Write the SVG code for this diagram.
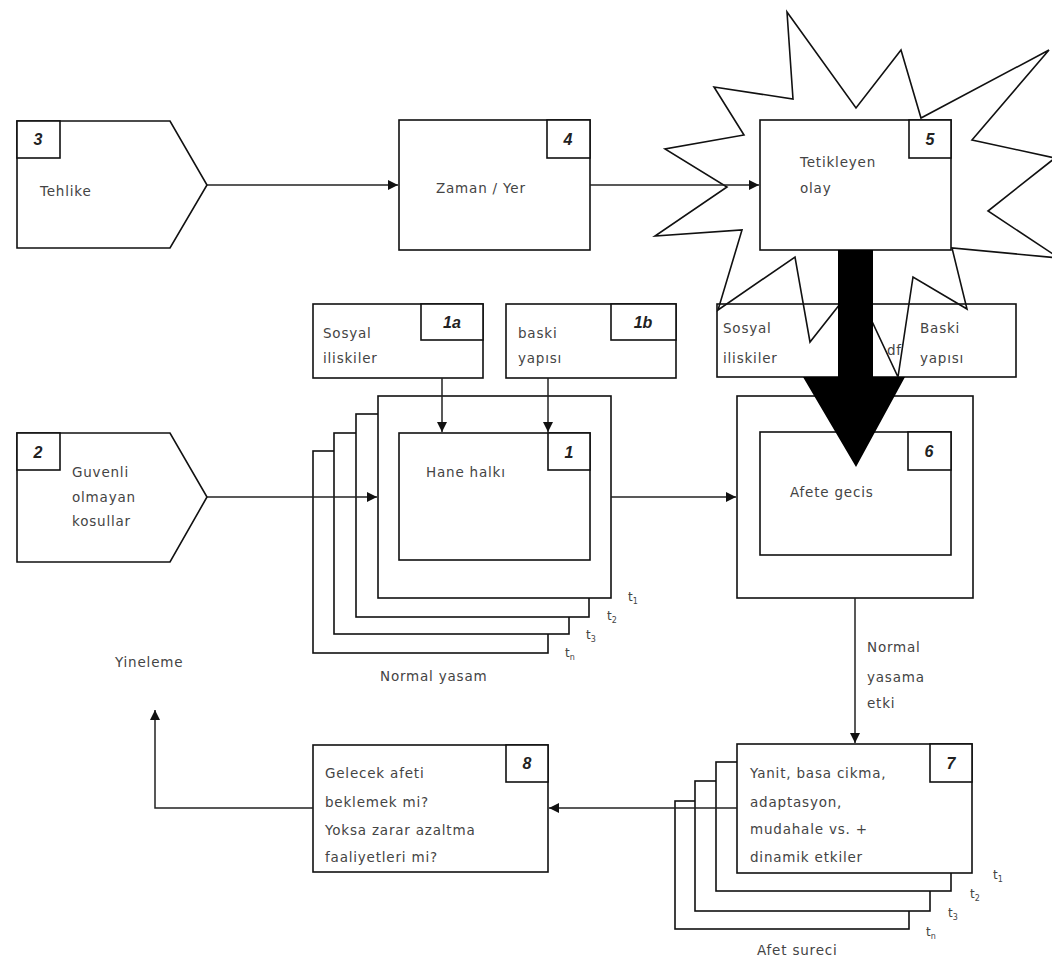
<svg xmlns="http://www.w3.org/2000/svg" width="1052" height="963" viewBox="0 0 1052 963">
<defs>
<style>
.b{fill:#fff;stroke:#111;stroke-width:1.6}
.n{fill:none;stroke:#111;stroke-width:1.6}
.t{font-family:"DejaVu Sans",sans-serif;font-size:13.5px;fill:#444;letter-spacing:0.8px}
.num{font-family:"Liberation Sans",Arial,sans-serif;font-size:16px;font-weight:bold;font-style:italic;fill:#222;text-anchor:middle}
.sm{font-family:"DejaVu Sans",sans-serif;font-size:12px;fill:#444}
.c{fill:none;stroke:#222;stroke-width:1.5}
</style>
<marker id="ah" viewBox="0 0 10 10" refX="10" refY="5" markerWidth="10" markerHeight="10" markerUnits="userSpaceOnUse" orient="auto">
<path d="M0,0 L10,5 L0,10 z" fill="#111"/>
</marker>
</defs>
<rect width="1052" height="963" fill="#fff"/>

<g id="node3">
<polygon class="b" points="17,121 170,121 207,185 170,248 17,248"/>
<rect class="b" x="17" y="121" width="43" height="37"/>
<text class="num" x="38" y="145">3</text>
<text class="t" x="40" y="196">Tehlike</text>
</g>

<g id="node4">
<rect class="b" x="399" y="120" width="191" height="130"/>
<rect class="b" x="547" y="120" width="43" height="38"/>
<text class="num" x="568" y="145">4</text>
<text class="t" x="436" y="193">Zaman / Yer</text>
</g>

<g id="node5">
<polygon class="b" points="787,12 856,108 901,50 921,118 1049,50 972,140 1055,158 988,211 1059,258 952,248 967,309 913,277 898,377 855,285 810,342 795,257 718,310 742,230 655,236 727,187 665,149 744,135 714,87 793,99"/>
<rect class="b" x="760" y="120" width="191" height="130"/>
<rect class="b" x="909" y="120" width="42" height="38"/>
<text class="num" x="930" y="145">5</text>
<text class="t" x="800" y="167">Tetikleyen</text>
<text class="t" x="800" y="193">olay</text>
</g>

<g id="node1a">
<rect class="b" x="313" y="304" width="170" height="74"/>
<rect class="b" x="421" y="304" width="62" height="36"/>
<text class="num" x="452" y="328">1a</text>
<text class="t" x="323" y="338">Sosyal</text>
<text class="t" x="323" y="363">iliskiler</text>
</g>

<g id="node1b">
<rect class="b" x="506" y="304" width="170" height="74"/>
<rect class="b" x="611" y="304" width="65" height="36"/>
<text class="num" x="643" y="328">1b</text>
<text class="t" x="518" y="338">baski</text>
<text class="t" x="518" y="363">yapısı</text>
</g>

<g id="node1">
<rect class="b" x="313" y="451" width="235" height="202"/>
<rect class="b" x="334" y="433" width="235" height="201"/>
<rect class="b" x="356" y="414" width="233" height="203"/>
<rect class="b" x="378" y="396" width="233" height="202"/>
<rect class="b" x="399" y="433" width="191" height="127"/>
<rect class="b" x="548" y="433" width="42" height="37"/>
<text class="num" x="569" y="458">1</text>
<text class="t" x="426" y="477">Hane halkı</text>
<text class="sm" x="628" y="601">t<tspan font-size="8" dy="3">1</tspan></text>
<text class="sm" x="607" y="620">t<tspan font-size="8" dy="3">2</tspan></text>
<text class="sm" x="586" y="639">t<tspan font-size="8" dy="3">3</tspan></text>
<text class="sm" x="565" y="657">t<tspan font-size="8" dy="3">n</tspan></text>
<text class="t" x="380" y="681">Normal yasam</text>
</g>

<g id="node2">
<polygon class="b" points="17,433 170,433 207,497 170,562 17,562"/>
<rect class="b" x="17" y="433" width="43" height="37"/>
<text class="num" x="38" y="458">2</text>
<text class="t" x="72" y="477">Guvenli</text>
<text class="t" x="72" y="502">olmayan</text>
<text class="t" x="72" y="526">kosullar</text>
</g>

<g id="node6">
<rect class="b" x="737" y="396" width="236" height="202"/>
<rect class="b" x="760" y="432" width="191" height="123"/>
<rect class="b" x="908" y="432" width="43" height="38"/>
<text class="num" x="929" y="457">6</text>
<text class="t" x="790" y="497">Afete gecis</text>
</g>

<g id="node6ab">
<rect class="n" x="717" y="304" width="299" height="73"/>
<text class="t" x="723" y="333">Sosyal</text>
<text class="t" x="723" y="363">iliskiler</text>
<text class="t" x="920" y="333">Baski</text>
<text class="t" x="920" y="363">yapısı</text>
<text class="t" x="887" y="355">df</text>
</g>

<g id="node7">
<rect class="b" x="675" y="801" width="234" height="128"/>
<rect class="b" x="695" y="781" width="235" height="130"/>
<rect class="b" x="716" y="762" width="235" height="129"/>
<rect class="b" x="737" y="744" width="235" height="129"/>
<rect class="b" x="930" y="744" width="42" height="38"/>
<text class="num" x="951" y="769">7</text>
<text class="t" x="750" y="778">Yanit, basa cikma,</text>
<text class="t" x="750" y="807">adaptasyon,</text>
<text class="t" x="750" y="834">mudahale vs. +</text>
<text class="t" x="750" y="862">dinamik etkiler</text>
<text class="sm" x="993" y="879">t<tspan font-size="8" dy="3">1</tspan></text>
<text class="sm" x="970" y="898">t<tspan font-size="8" dy="3">2</tspan></text>
<text class="sm" x="948" y="917">t<tspan font-size="8" dy="3">3</tspan></text>
<text class="sm" x="926" y="936">t<tspan font-size="8" dy="3">n</tspan></text>
<text class="t" x="757" y="955">Afet sureci</text>
</g>

<g id="node8">
<rect class="b" x="313" y="745" width="235" height="127"/>
<rect class="b" x="506" y="745" width="42" height="37"/>
<text class="num" x="527" y="769">8</text>
<text class="t" x="325" y="778">Gelecek afeti</text>
<text class="t" x="325" y="807">beklemek mi?</text>
<text class="t" x="325" y="835">Yoksa zarar azaltma</text>
<text class="t" x="325" y="862">faaliyetleri mi?</text>
</g>

<g id="labels">
<text class="t" x="867" y="652">Normal</text>
<text class="t" x="867" y="682">yasama</text>
<text class="t" x="867" y="708">etki</text>
<text class="t" x="115" y="667">Yineleme</text>
</g>

<g id="connectors">
<line class="c" x1="207" y1="185" x2="398" y2="185" marker-end="url(#ah)"/>
<line class="c" x1="590" y1="185" x2="759" y2="185" marker-end="url(#ah)"/>
<line class="c" x1="442" y1="378" x2="442" y2="432" marker-end="url(#ah)"/>
<line class="c" x1="548" y1="378" x2="548" y2="432" marker-end="url(#ah)"/>
<line class="c" x1="207" y1="497" x2="377" y2="497" marker-end="url(#ah)"/>
<line class="c" x1="611" y1="497" x2="736" y2="497" marker-end="url(#ah)"/>
<line class="c" x1="855" y1="598" x2="855" y2="743" marker-end="url(#ah)"/>
<line class="c" x1="737" y1="808" x2="549" y2="808" marker-end="url(#ah)"/>
<polyline class="c" points="313,808 155,808 155,710" marker-end="url(#ah)"/>
<polygon fill="#000" points="838,250 873,250 873,377 905,377 856,467 803,377 838,377"/>
</g>
</svg>
